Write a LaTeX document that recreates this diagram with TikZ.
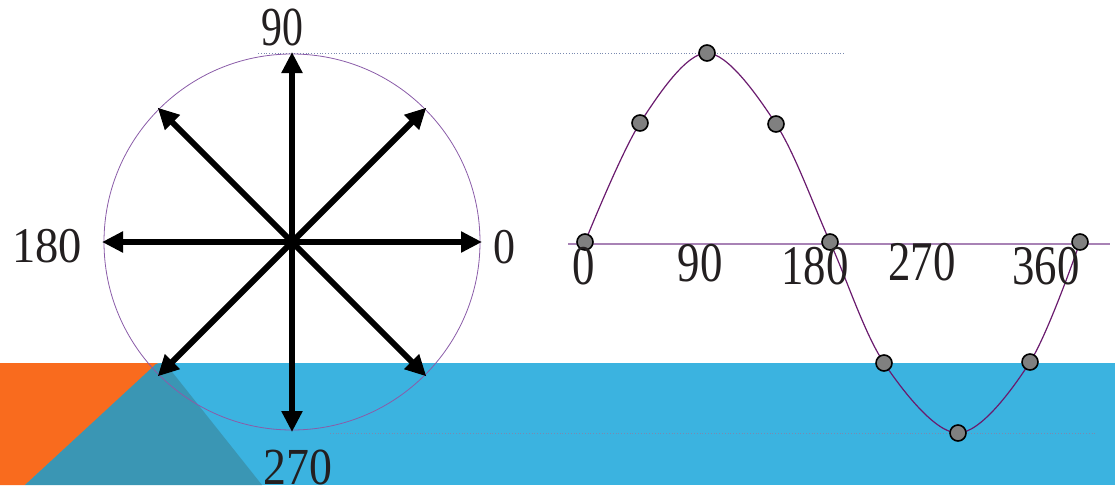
\documentclass[tikz,border=0pt]{standalone}
\usepackage{fontspec}
\setmainfont{Liberation Serif}
\usetikzlibrary{arrows.meta}
\definecolor{seablue}{HTML}{3BB3E0}
\definecolor{seaorange}{HTML}{F96B1E}
\definecolor{seateal}{HTML}{3A96B4}
\definecolor{ringpurple}{HTML}{8A5CA8}
\definecolor{wavepurple}{HTML}{6A1B6E}
\definecolor{axispurple}{HTML}{A882B5}
\definecolor{dotgrey}{HTML}{7A8AB0}
\definecolor{inkblack}{HTML}{231F20}
% narrow digits
\newcommand{\narrowtxt}[2]{\scalebox{#1}[1]{#2}}
\tikzset{
  vec/.style={line width=6pt, -{Triangle[length=21pt,width=20pt]}},
  lbl/.style={font=\fontsize{50}{50}\selectfont, inner sep=0pt, text=inkblack},
  biglbl/.style={font=\fontsize{55}{55}\selectfont, inner sep=0pt, text=inkblack},
  wavelbl/.style={font=\fontsize{56}{56}\selectfont, inner sep=0pt, text=inkblack},
  wavept/.style={circle, draw=black, line width=1.6pt, fill=gray, minimum size=16pt, inner sep=0pt}
}
\begin{document}
\begin{tikzpicture}[x=1pt, y=-1pt]
  \useasboundingbox (0,0) rectangle (1115,485);

  % water
  \fill[seablue] (0,363) rectangle (1115,485);
  \fill[seaorange] (0,363) -- (158,363) -- (25,485) -- (0,485) -- cycle;
  \fill[seateal] (156,364) -- (25,485) -- (262,485) -- (165,363) -- cycle;

  % guide lines
  \draw[dotgrey, dotted, line width=0.8pt] (258,53) -- (845,53);
  \draw[dotgrey, dotted, line width=0.8pt] (330,433) -- (1097,433);

  % circle with arrows
  \coordinate (o) at (292,242);
  \draw[ringpurple, line width=0.8pt] (o) circle[radius=188];
  \foreach \a in {0,45,...,315} {
    \coordinate (t\a) at ([shift={(\a:190)}]o);
    \draw[vec] (o) -- (t\a);
  }
  \node[biglbl] (l90) at (282,27) {\narrowtxt{0.76}{90}};
  \node[lbl] (l180) at (47,246) {\narrowtxt{0.93}{180}};
  \node[lbl] (l0) at (504,247) {\narrowtxt{0.88}{0}};
  \node[font=\fontsize{52}{52}\selectfont, inner sep=0pt, text=inkblack] (l270) at (298,467) {\narrowtxt{0.88}{270}};

  % sine wave
  \draw[axispurple, line width=1.5pt] (568,244) -- (1110,244);
  \foreach \i/\x/\y in {0/585/242, 1/640/123, 2/707/53, 3/776/124, 4/830/242,
                        5/884/363, 6/958/433, 7/1030/362, 8/1080/242}
    \coordinate (p\i) at (\x,\y);
  \draw[wavepurple, line width=1.2pt] plot[smooth, tension=0.55]
    coordinates {(p0) (p1) (p2) (p3) (p4) (p5) (p6) (p7) (p8)};
  \foreach \i in {0,...,8}
    \node[wavept] (d\i) at (p\i) {};

  \node[wavelbl] (s0) at (584,266) {\narrowtxt{0.8}{0}};
  \node[wavelbl] (s90) at (700,263) {\narrowtxt{0.8}{90}};
  \node[wavelbl] (s180) at (815,266) {\narrowtxt{0.8}{180}};
  \node[wavelbl] (s270) at (922,262) {\narrowtxt{0.8}{270}};
  \node[wavelbl] (s360) at (1046,266) {\narrowtxt{0.8}{360}};
\end{tikzpicture}
\end{document}
